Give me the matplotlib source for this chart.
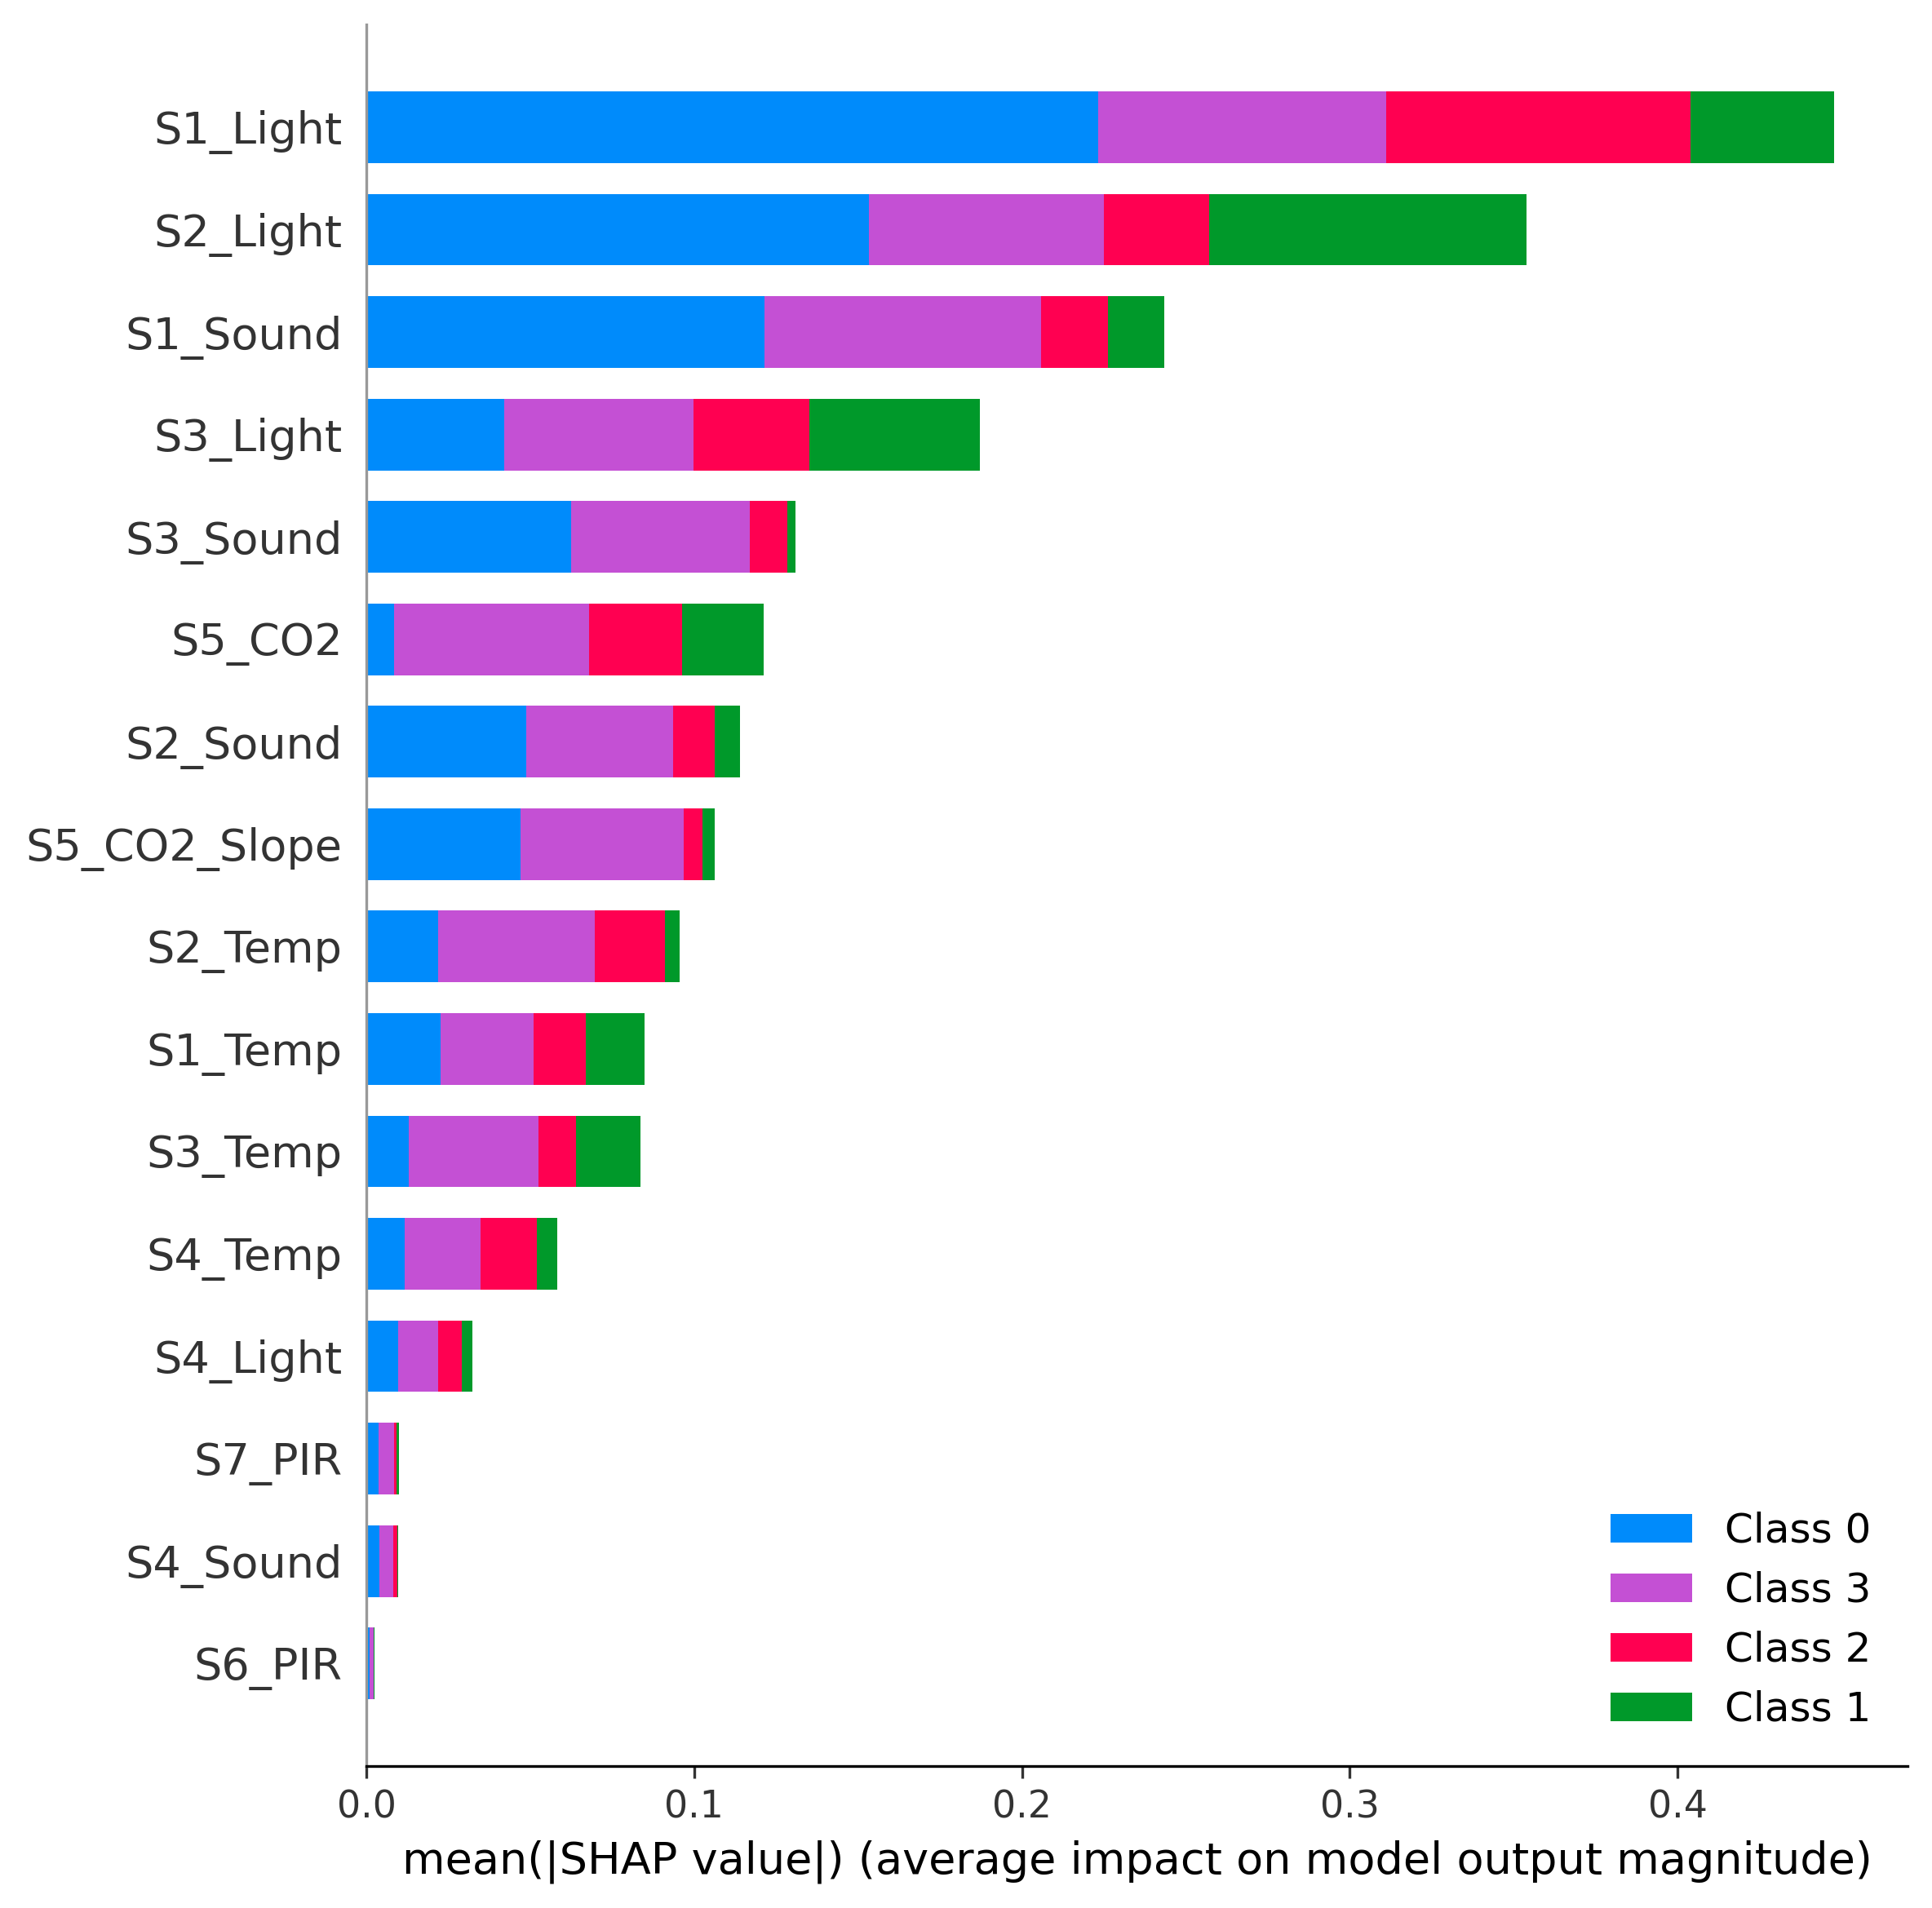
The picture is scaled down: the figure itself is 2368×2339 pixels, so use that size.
import numpy as np
import matplotlib
matplotlib.use("Agg")
import matplotlib.pyplot as plt

# features from top to bottom
features = ["S1_Light", "S2_Light", "S1_Sound", "S3_Light", "S3_Sound", "S5_CO2",
            "S2_Sound", "S5_CO2_Slope", "S2_Temp", "S1_Temp", "S3_Temp", "S4_Temp",
            "S4_Light", "S7_PIR", "S4_Sound", "S6_PIR"]

# mean |SHAP| per class, same order as features
class0 = [0.2232, 0.1533, 0.1214, 0.0421, 0.0624, 0.0085, 0.0488, 0.0471,
          0.0220, 0.0227, 0.0130, 0.0118, 0.0097, 0.0037, 0.0040, 0.0010]
class3 = [0.0880, 0.0717, 0.0844, 0.0578, 0.0545, 0.0594, 0.0447, 0.0497,
          0.0477, 0.0282, 0.0396, 0.0230, 0.0121, 0.0047, 0.0042, 0.0012]
class2 = [0.0928, 0.0320, 0.0205, 0.0353, 0.0116, 0.0283, 0.0127, 0.0057,
          0.0215, 0.0161, 0.0114, 0.0171, 0.0074, 0.0008, 0.0012, 0.0001]
class1 = [0.0437, 0.0970, 0.0170, 0.0519, 0.0024, 0.0251, 0.0077, 0.0037,
          0.0043, 0.0178, 0.0196, 0.0064, 0.0032, 0.0007, 0.0002, 0.0002]

class_names = ["Class 0", "Class 3", "Class 2", "Class 1"]
class_vals = [class0, class3, class2, class1]
class_colors = ["#008bfb", "#c450d4", "#ff0051", "#00992a"]

fig = plt.figure(figsize=(2368 / 300, 2339 / 300), dpi=300)
ax = fig.add_axes([0.1896, 0.0745, 0.7977, 0.9125])

n = len(features)
ypos = np.arange(n)[::-1]
left = np.zeros(n)
for name, vals, col in zip(class_names, class_vals, class_colors):
    vals = np.array(vals)
    ax.barh(ypos, vals, 0.7, left=left, color=col, label=name, align="center")
    left += vals

ax.set_ylim(-1, n)
ax.set_xlim(left=0)
ax.set_yticks(ypos)
ax.set_yticklabels(features, fontsize=13)

ax.spines["top"].set_visible(False)
ax.spines["right"].set_visible(False)
ax.spines["left"].set_color("#999999")
ax.xaxis.set_ticks_position("bottom")
ax.yaxis.set_ticks_position("none")
ax.tick_params(axis="x", labelsize=11, colors="#333333")
ax.tick_params(axis="y", colors="#333333")
ax.set_xticks([0.0, 0.1, 0.2, 0.3, 0.4])

ax.set_xlabel("mean(|SHAP value|) (average impact on model output magnitude)", fontsize=13)
ax.legend(frameon=False, fontsize=12, loc="lower right")

fig.savefig("out.png", dpi=300)
